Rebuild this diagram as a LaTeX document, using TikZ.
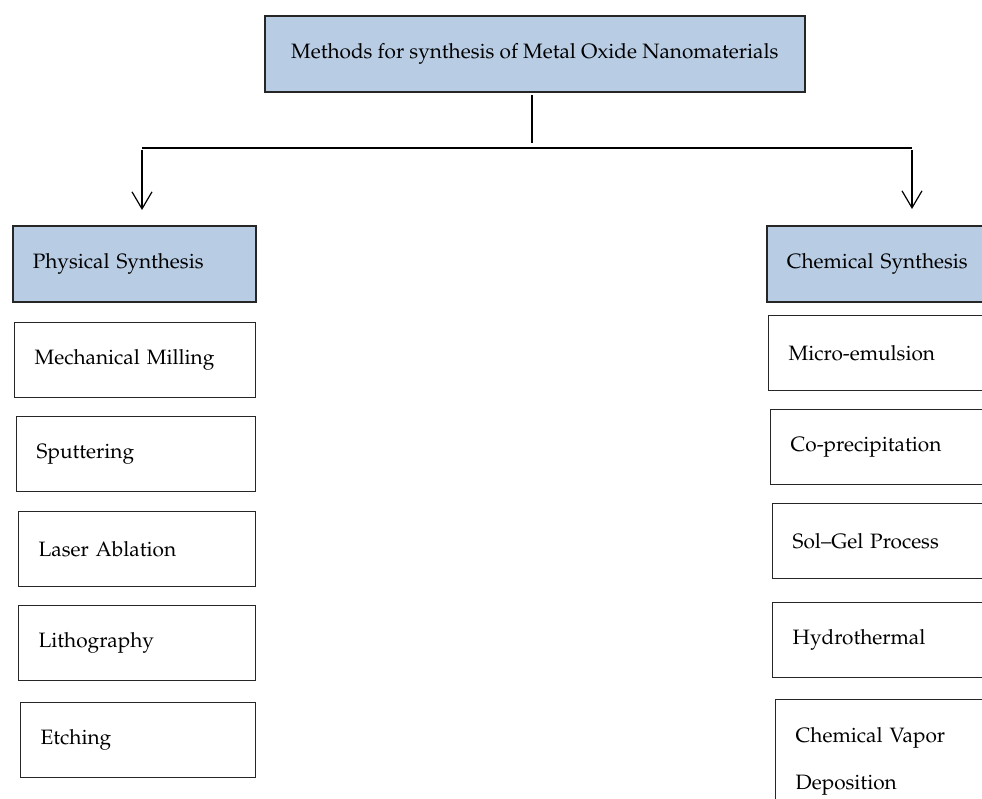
\documentclass[tikz,border=0pt]{standalone}
\usepackage[T1]{fontenc}
\usepackage{mathpazo}
\usetikzlibrary{arrows.meta}
\definecolor{headblue}{RGB}{184,204,228}
\tikzset{
  headbox/.style={draw=black!85,line width=0.8pt,fill=headblue,anchor=north west,
    align=left,inner xsep=10pt,minimum height=38pt,font=\boxfont},
  itembox/.style={draw=black!85,line width=0.7pt,anchor=north west,
    align=left,inner xsep=10pt,minimum height=37.5pt,font=\boxfont},
  trunk/.style={line width=1pt},
  branch/.style={line width=0.6pt,-{Straight Barb[length=8.5pt,width=10pt]}},
}
\newcommand{\boxfont}{\fontsize{10.4}{12.5}\selectfont}

\begin{document}
\begin{tikzpicture}[x=0.5pt,y=-0.5pt]
  \useasboundingbox (0,0) rectangle (982,799);
  \clip (0,0) rectangle (982,799);
  % ---------- top box
  \node[headbox,minimum width=270pt,inner xsep=0pt] (top) at (264,15) {Methods for synthesis of Metal Oxide Nanomaterials};
  % ---------- the two branches
  \node[headbox,text width=101.5pt] (phys) at (12,225) {Physical Synthesis};
  \node[headbox,text width=100pt] (chem) at (766,225) {Chemical Synthesis};
  \coordinate (split) at (532,143);
  \coordinate (barL) at (142,148);
  \coordinate (barR) at (912,148);
  \draw[trunk] ([yshift=-1pt]top.south -| split) -- (split);
  \draw[trunk] (barL) -- (barR);
  \draw[branch,shorten >=7.5pt] ([yshift=-1pt]barL) -- (barL |- phys.north);
  \draw[branch,shorten >=8pt] ([yshift=-1pt]barR) -- (barR |- chem.north);
  % ---------- physical methods
  \foreach \n/\x/\y/\w/\txt in {mill/14/322/100.5/Mechanical Milling,
      sput/16/416/99.5/Sputtering, laser/18/511/98.5/Laser Ablation,
      litho/18/605/98.5/Lithography, etch/20/702/97.5/Etching}
    \node[itembox,text width=\w pt] (\n) at (\x,\y) {\txt};
  % ---------- chemical methods (cut by the right edge)
  \foreach \n/\x/\y/\txt in {micro/768/315/Micro-emulsion,
      copre/770/409/Co-precipitation, solgel/772/503/Sol--Gel Process,
      hydro/772/602/Hydrothermal}
    \node[itembox,text width=100pt] (\n) at (\x,\y) {\txt};
  \node[itembox,text width=100pt,inner ysep=14pt] (cvd) at (775,699) {Chemical Vapor\\[11pt]Deposition};
\end{tikzpicture}
\end{document}
